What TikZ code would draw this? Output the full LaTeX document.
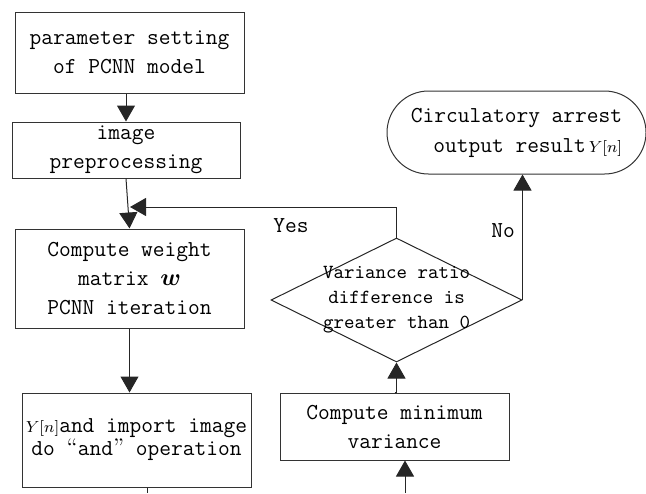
\documentclass[tikz,border=0pt]{standalone}
\usepackage{amsmath}
\usepackage{bm}
\usepackage{tikz}
\usetikzlibrary{arrows.meta,shapes.geometric}

\tikzset{
  procbox/.style={draw=black!80, line width=0.5pt, rectangle, inner sep=0pt, align=center,
    font=\ttfamily\fontsize{11.4}{14.5}\selectfont},
  lbl/.style={font=\ttfamily\fontsize{11.4}{14}\selectfont, inner sep=0pt},
  flow/.style={draw=black!85, line width=0.5pt, -{Triangle[width=9pt,length=8pt]}},
}

\begin{document}
\begin{tikzpicture}[x=0.5pt,y=-0.5pt]
  \useasboundingbox (0,0) rectangle (646,493);
  % left column
  \node[procbox, minimum width=114.5pt, minimum height=40.5pt] (param) at (129.5,52.5) {parameter setting\\of PCNN model};
  \node[procbox, minimum width=114pt, minimum height=28pt] (prep) at (126,150) {image\\preprocessing};
  \node[procbox, minimum width=114.5pt, minimum height=49.5pt] (weight) at (129.5,278.5) {Compute weight\\matrix {\large$\bm{w}$}\\PCNN iteration};
  \node[procbox, minimum width=114.5pt, minimum height=47pt, font=\ttfamily\fontsize{11.4}{11.5}\selectfont] (andop) at (136.5,440) {{\rmfamily\footnotesize$Y[n]$}and import image\\do {\rmfamily\large “}and{\rmfamily\large ”} operation};
  % right column
  \node[procbox, minimum width=114.5pt, minimum height=33.5pt] (minvar) at (394.5,426.5) {Compute minimum\\variance};
  \node[draw=black!85, line width=0.5pt, diamond, minimum width=125.5pt, minimum height=62pt, inner sep=0pt] (ratio) at (396.5,300) {};
  \node[font=\ttfamily\fontsize{10}{12.5}\selectfont, align=center, inner sep=0pt] (ratiotext) at (ratio.center) {Variance ratio\\difference is\\greater than 0};
  \node[procbox, rounded corners=20.75pt, align=right, minimum width=129.5pt, minimum height=41.5pt, font=\ttfamily\fontsize{11.4}{15}\selectfont] (stop) at (516.5,132.5) {Circulatory arrest\\output result{\rmfamily\footnotesize$\,Y[n]$}};

  \coordinate (join) at (130,207);
  \coordinate (out1) at (147,493);
  \coordinate (in1) at (405,493);

  % connectors
  \draw[flow] (prep.north |- param.south) -- (prep.north);
  \draw[flow] (prep.south) -- (weight.north);
  \draw[flow] (ratio.north) |- (join);
  \draw[flow] (weight.south) -- (weight.south |- andop.north);
  \draw[draw=black!85, line width=0.5pt] (andop.south -| out1) -- (out1);
  \draw[flow] (in1) -- (in1 |- minvar.south);
  \draw[flow] (minvar.north) -- (minvar.north -| ratio.south) -- (ratio.south);
  \draw[flow] (ratio.east) -- (ratio.east |- stop.south);

  \node[lbl] (yes) at (291,226) {Yes};
  \node[lbl] (no) at (503,231) {No};
\end{tikzpicture}
\end{document}
